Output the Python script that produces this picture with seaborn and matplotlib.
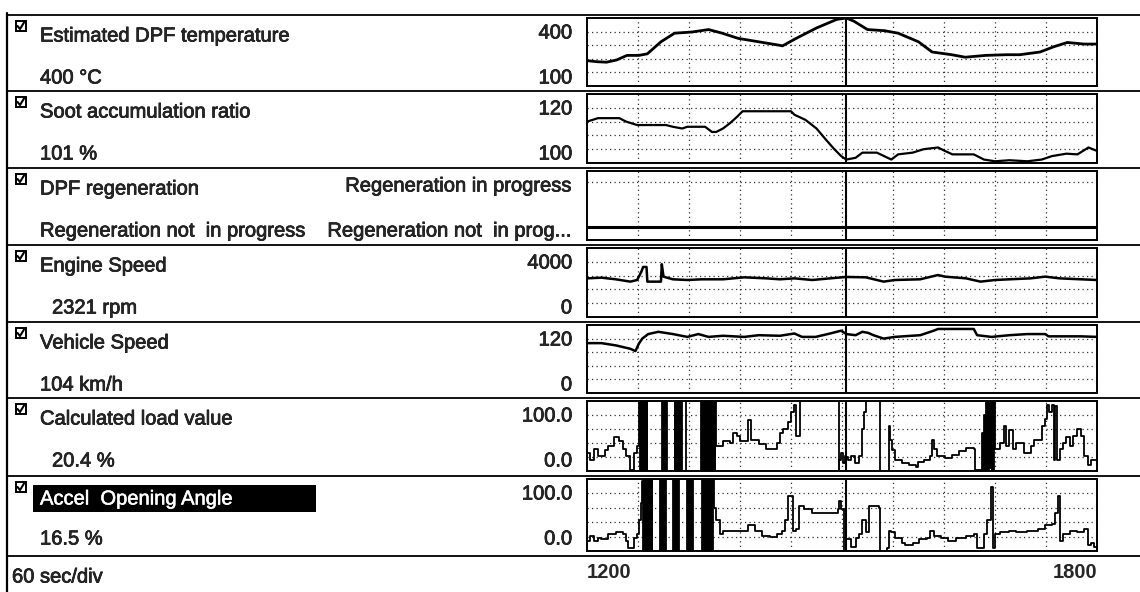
import matplotlib
matplotlib.use("Agg")
import matplotlib.pyplot as plt
import matplotlib.patheffects as pe
from matplotlib.lines import Line2D
from matplotlib.patches import Rectangle
import seaborn as sns

sns.set_style("white")
plt.rcParams["font.family"] = ["Liberation Sans", "DejaVu Sans"]

# ---- recorded data (time in seconds) ----
T_START, T_END = 1200, 1800
CURSOR_T = 1505

temp_t = [1200, 1212, 1223, 1235, 1247, 1261, 1271, 1287, 1303, 1323, 1343, 1359, 1378, 1402,
          1426, 1430, 1446, 1470, 1494, 1505, 1514, 1530, 1550, 1566, 1590, 1606, 1629, 1645,
          1669, 1693, 1709, 1733, 1749, 1765, 1785, 1800]
temp_v = [212, 207, 205, 215, 235, 235, 242, 295, 333, 338, 349, 333, 310, 295,
          280, 277, 310, 356, 394, 400, 386, 349, 344, 333, 295, 250, 238, 227,
          235, 238, 238, 250, 273, 292, 285, 285]

soot_t = [1200, 1213, 1238, 1246, 1259, 1276, 1293, 1301, 1312, 1318, 1339, 1347, 1352, 1360,
          1368, 1377, 1383, 1402, 1440, 1444, 1457, 1470, 1482, 1491, 1499, 1505, 1516, 1524,
          1541, 1558, 1566, 1583, 1596, 1613, 1621, 1630, 1655, 1667, 1680, 1697, 1718, 1735,
          1747, 1764, 1777, 1790, 1800]
soot_v = [112, 113, 113, 112, 111, 111, 111, 110.5, 110, 110.5, 110.5, 109, 109, 110,
          111.5, 113.5, 115, 115, 115, 114, 112.5, 110, 106.5, 104, 102, 101, 101.5, 103,
          103, 101, 102.5, 103, 104, 104.5, 103.5, 102.5, 102.5, 101, 100.5, 100.8, 100.5, 101,
          102, 102.7, 102.5, 104.5, 103.5]

regen_t = [1200, 1800]
regen_v = [0, 0]

rpm_t = [1200, 1217, 1234, 1251, 1259, 1264, 1266, 1270, 1271, 1287, 1288, 1290, 1301, 1318,
         1335, 1360, 1385, 1411, 1427, 1444, 1465, 1486, 1505, 1528, 1549, 1562, 1592, 1613,
         1621, 1646, 1663, 1680, 1697, 1722, 1739, 1756, 1781, 1800]
rpm_v = [2240, 2280, 2185, 2050, 2145, 2630, 2900, 2900, 2050, 2050, 3060, 2340, 2185, 2145,
         2185, 2185, 2300, 2240, 2185, 2240, 2145, 2240, 2321, 2300, 2050, 2145, 2185, 2435,
         2340, 2240, 2050, 2145, 2185, 2240, 2340, 2240, 2185, 2145]

kmh_t = [1200, 1217, 1234, 1251, 1257, 1261, 1265, 1272, 1284, 1301, 1318, 1331, 1343, 1360,
         1385, 1402, 1427, 1444, 1453, 1469, 1486, 1499, 1505, 1516, 1524, 1531, 1537, 1549,
         1562, 1592, 1600, 1608, 1613, 1655, 1659, 1676, 1697, 1718, 1739, 1743, 1764, 1781, 1800]
kmh_v = [88, 88, 84, 78, 74, 87, 96, 104, 108, 104, 99, 104, 99, 101,
         99, 102, 101, 105, 99, 99, 105, 110, 104, 102, 108, 106, 102, 96,
         99, 102, 106, 110, 113, 113, 102, 99, 102, 104, 104, 100, 100, 100, 99]

load_t = [1200, 1204, 1208, 1213, 1217, 1221, 1225, 1232, 1238, 1242, 1246, 1251, 1255, 1259,
          1261, 1262, 1263, 1264, 1265, 1266, 1267, 1268, 1269, 1270, 1271,
          1288, 1289, 1290, 1291, 1292, 1293, 1294,
          1303, 1304, 1305, 1306, 1307, 1308, 1309, 1310, 1311, 1312,
          1317,
          1334, 1335, 1336, 1337, 1338, 1339, 1340, 1341, 1342, 1343, 1344, 1345, 1346, 1347,
          1348, 1349, 1350, 1351,
          1352, 1360, 1368, 1372, 1376, 1380, 1389, 1393, 1402, 1410, 1419, 1423, 1427, 1431,
          1436, 1440, 1444, 1446, 1450,
          1496, 1497, 1499, 1501, 1503, 1505, 1507, 1511, 1515, 1520, 1524, 1526, 1528,
          1545, 1555, 1557, 1559, 1562, 1570, 1579, 1587, 1589, 1596, 1604, 1606, 1608, 1612,
          1621, 1629, 1638, 1646, 1655, 1657,
          1665, 1666, 1667, 1668, 1669, 1670, 1671, 1672, 1673, 1674, 1675, 1676, 1677, 1678, 1679,
          1680, 1686, 1691, 1693, 1697, 1701, 1705, 1714, 1722, 1726, 1735, 1739, 1741, 1743,
          1747, 1749, 1751, 1753, 1756, 1760, 1764, 1768, 1772, 1777, 1781, 1785, 1789, 1793, 1800]
load_v = [26, 16, 31, 22, 21, 30, 36, 48, 43, 31, 21, 1, 26, 36,
          100, 0, 100, 0, 100, 0, 100, 0, 100, 0, 100,
          0, 100, 0, 100, 0, 100, 0,
          100, 0, 100, 0, 100, 0, 100, 0, 100, 0,
          100,
          0, 100, 0, 100, 0, 100, 0, 100, 0, 100, 0, 100, 0, 100,
          0, 100, 0, 100,
          36, 43, 40, 55, 50, 43, 73, 45, 38, 31, 31, 40, 55, 60,
          70, 85, 95, 50, 100,
          0, 16, 26, 11, 21, 20.4, 16, 21, 11, 21, 60, 85, 100,
          0, 65, 45, 30, 16, 11, 8, 6, 13, 16, 21, 45, 31, 21,
          18, 23, 28, 33, 31, 1,
          55, 1, 80, 0, 100, 0, 100, 0, 97, 5, 100, 0, 100, 2, 100,
          31, 40, 65, 36, 58, 31, 40, 26, 36, 45, 65, 75, 95, 85,
          95, 16, 93, 16, 31, 40, 48, 36, 50, 60, 50, 21, 8, 16, 16]

accel_t = [1200, 1204, 1208, 1213, 1217, 1225, 1234, 1242, 1246, 1248, 1255, 1259, 1261, 1263,
           1265, 1266, 1267, 1268, 1269, 1270, 1271, 1272, 1273, 1274, 1275, 1276, 1277,
           1286, 1287, 1288, 1289, 1290, 1291, 1292, 1293,
           1301, 1302, 1303, 1304, 1305, 1306, 1307, 1308,
           1318, 1319, 1320, 1321, 1322, 1323, 1324, 1325,
           1335, 1336, 1337, 1338, 1339, 1340, 1341, 1342, 1343, 1344, 1345, 1346, 1347, 1348, 1349,
           1352, 1356, 1360, 1368, 1376, 1385, 1389, 1398, 1406, 1415, 1423, 1429, 1433, 1436,
           1440, 1442, 1446, 1449, 1455, 1465, 1486, 1495, 1497, 1499, 1502, 1505, 1511, 1516,
           1520, 1524, 1528, 1532, 1536, 1543, 1545, 1553, 1555, 1558, 1562, 1570, 1574, 1583,
           1591, 1600, 1604, 1608, 1617, 1625, 1634, 1646, 1655, 1659, 1667, 1671, 1675, 1678,
           1680, 1686, 1697, 1705, 1718, 1730, 1739, 1747, 1751, 1754, 1756, 1760, 1768, 1777,
           1785, 1789, 1793, 1797, 1800]
accel_v = [14, 21, 14, 18, 16, 23, 26, 23, 14, 4, 18, 23, 43, 67,
           97, 0, 100, 0, 100, 0, 100, 0, 100, 0, 100, 0, 100,
           0, 100, 0, 100, 0, 100, 0, 100,
           0, 100, 0, 100, 0, 100, 0, 100,
           0, 100, 0, 100, 0, 100, 0, 100,
           0, 100, 0, 100, 0, 100, 0, 100, 0, 100, 0, 100, 0, 100, 60,
           43, 23, 28, 28, 28, 28, 36, 28, 21, 20, 23, 28, 43, 77,
           77, 28, 31, 62, 58, 53, 53, 58, 70, 58, 0, 16.5, 6, 18,
           23, 43, 26, 62, 62, 60, 0, 4, 28, 26, 18, 11, 8, 11,
           16, 18, 28, 21, 18, 14, 18, 21, 23, 4, 23, 43, 89, 4,
           23, 26, 28, 26, 28, 31, 36, 38, 53, 77, 14, 23, 28, 26,
           31, 9, 11, 6, 6]

# ---- panel descriptions ----
panels = [
    dict(name="Estimated DPF temperature", value="400 \u00b0C", top="400", bottom="100",
         t=temp_t, v=temp_v, ylim=(100, 400), step=False, lw=2.0),
    dict(name="Soot accumulation ratio", value="101 %", top="120", bottom="100",
         t=soot_t, v=soot_v, ylim=(100, 120), step=False, lw=1.6),
    dict(name="DPF regeneration", value="Regeneration not  in progress",
         top="Regeneration in progress", bottom="Regeneration not  in prog...",
         t=regen_t, v=regen_v, ylim=(-0.3, 1.25), step=False, lw=2.2),
    dict(name="Engine Speed", value="2321 rpm", top="4000", bottom="0",
         t=rpm_t, v=rpm_v, ylim=(0, 4000), step=False, lw=1.8, indent=True),
    dict(name="Vehicle Speed", value="104 km/h", top="120", bottom="0",
         t=kmh_t, v=kmh_v, ylim=(0, 120), step=False, lw=1.8),
    dict(name="Calculated load value", value="20.4 %", top="100.0", bottom="0.0",
         t=load_t, v=load_v, ylim=(0, 100), step=True, lw=1.3, indent=True),
    dict(name="Accel  Opening Angle", value="16.5 %", top="100.0", bottom="0.0",
         t=accel_t, v=accel_v, ylim=(0, 100), step=True, lw=1.3, highlight=True),
]

W, H = 1140, 592
fig = plt.figure(figsize=(W / 100, H / 100), dpi=100)
fig.patch.set_facecolor("white")


def fx(px):
    return px / W


def fy(py):
    return 1 - py / H


row_lines = [15, 91, 168, 245, 322, 398, 476, 556]
PLOT_L, PLOT_R = 587, 1097
FS = 14.5
heavy = [pe.withStroke(linewidth=0.5, foreground="black")]
heavy_w = [pe.withStroke(linewidth=0.4, foreground="white")]

# frame lines of the list
fig.add_artist(Line2D([fx(7), fx(7)], [fy(13), fy(592)], color="black", lw=1.6))
for yl in row_lines:
    fig.add_artist(Line2D([fx(7), 1.0], [fy(yl), fy(yl)], color="black", lw=1.3))


def checkbox(cx, cy):
    """Small ticked square centred at pixel (cx, cy)."""
    s = 5
    fig.add_artist(Rectangle((fx(cx - s), fy(cy + s)), 2 * s / W, 2 * s / H,
                             facecolor="white", edgecolor="black", lw=1.4))
    fig.add_artist(Line2D([fx(cx - 3), fx(cx - 0.5), fx(cx + 3.5)],
                          [fy(cy), fy(cy + 3), fy(cy - 3.5)],
                          color="black", lw=1.5, solid_joinstyle="miter"))


for i, p in enumerate(panels):
    r0, r1 = row_lines[i], row_lines[i + 1]
    top_px, bot_px = r0 + 3, r1 - 5
    ax = fig.add_axes([fx(PLOT_L), fy(bot_px), fx(PLOT_R) - fx(PLOT_L), (bot_px - top_px) / H])

    sns.lineplot(x=p["t"], y=p["v"], ax=ax, color="black", linewidth=p["lw"],
                 estimator=None, sort=False, legend=False,
                 drawstyle="steps-post" if p["step"] else "default")

    lo, hi = p["ylim"]
    ax.set_xlim(T_START, T_END)
    ax.set_ylim(lo, hi)
    ax.set_xticks(list(range(T_START + 60, T_END, 60)))
    if i == 2:
        ax.set_yticks([1])
    else:
        ax.set_yticks([lo + (hi - lo) * k / 5 for k in range(1, 5)])
    ax.grid(True, color="#333333", linestyle=(0, (1, 2.6)), linewidth=0.9)
    ax.tick_params(length=0, labelbottom=False, labelleft=False)
    ax.set_xlabel("")
    ax.set_ylabel("")
    for s in ax.spines.values():
        s.set_color("black")
        s.set_linewidth(1.4)
    ax.axvline(CURSOR_T, color="black", lw=1.5)

    # left-hand list entry
    checkbox(20.5, r0 + 11)
    if p.get("highlight"):
        fig.add_artist(Rectangle((fx(33), fy(r0 + 36)), fx(316) - fx(33), 27 / H,
                                 facecolor="black", edgecolor="none"))
        fig.text(fx(40), fy(r0 + 23), p["name"], fontsize=FS, ha="left", va="center",
                 color="white", path_effects=heavy_w)
    else:
        fig.text(fx(40), fy(r0 + 21), p["name"], fontsize=FS, ha="left", va="center",
                 path_effects=heavy)
    vx = 52 if p.get("indent") else 40
    fig.text(fx(vx), fy(r0 + 63), p["value"], fontsize=FS, ha="left", va="center",
             path_effects=heavy)
    fig.text(fx(572), fy(r0 + 18), p["top"], fontsize=FS, ha="right", va="center",
             path_effects=heavy)
    fig.text(fx(572), fy(r0 + 63), p["bottom"], fontsize=FS, ha="right", va="center",
             path_effects=heavy)

# time base line
fig.text(fx(12), fy(577), "60 sec/div", fontsize=FS, ha="left", va="center",
         path_effects=heavy)
fig.text(fx(PLOT_L), fy(572), str(T_START), fontsize=FS, ha="left", va="center",
         fontweight="bold")
fig.text(fx(PLOT_R), fy(572), str(T_END), fontsize=FS, ha="right", va="center",
         fontweight="bold")

fig.savefig("out.png", dpi=100, facecolor="white")
